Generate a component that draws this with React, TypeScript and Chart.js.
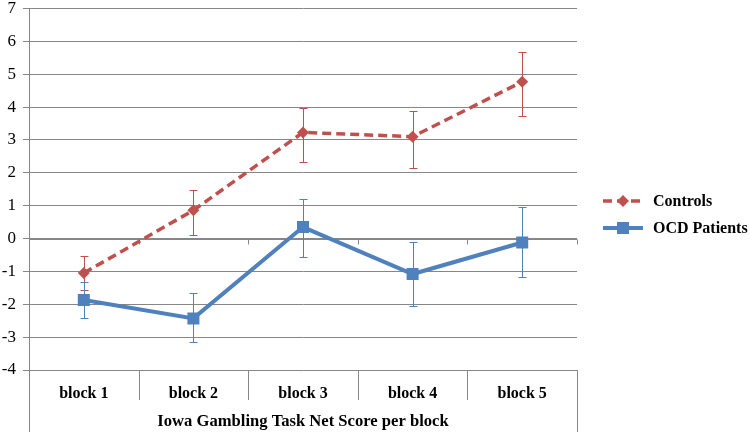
import React, { useEffect, useRef } from "react";
import { Chart, registerables } from "chart.js";

Chart.register(...registerables);

const categories = ["block 1", "block 2", "block 3", "block 4", "block 5"];
const controlsMean = [-1.05, 0.86, 3.23, 3.1, 4.77];
const controlsUpper = [-0.52, 1.47, 3.98, 3.88, 5.67];
const controlsLower = [-1.58, 0.11, 2.33, 2.16, 3.72];
const ocdMean = [-1.87, -2.43, 0.35, -1.08, -0.12];
const ocdUpper = [-1.33, -1.66, 1.21, -0.09, 0.97];
const ocdLower = [-2.42, -3.16, -0.55, -2.06, -1.16];
const yTicks = { min: -4, max: 7, step: 1 };
const xTitle = "Iowa Gambling Task Net Score per block";
const seriesNames = ["Controls", "OCD Patients"];

const RED = "#C0504D";
const BLUE = "#4F81BD";
const GRID = "#878787";
const SERIF = "'Liberation Serif', 'Times New Roman', serif";

const extrasPlugin = {
  id: "extras",
  beforeDatasetsDraw(chart: any) {
    const { ctx, chartArea, scales } = chart;
    const x = scales.x;
    const y = scales.y;
    ctx.save();
    const y0 = Math.round(y.getPixelForValue(0)) + 0.5;
    ctx.strokeStyle = GRID;
    ctx.lineWidth = 1;
    ctx.beginPath();
    ctx.moveTo(chartArea.left, y0);
    ctx.lineTo(chartArea.right, y0);
    for (let i = 0; i <= categories.length; i++) {
      const bx = Math.round(x.getPixelForValue(i - 0.5)) + 0.5;
      ctx.moveTo(bx, y0);
      ctx.lineTo(bx, y0 + 5);
    }
    ctx.stroke();
    ctx.beginPath();
    const bottom = chart.height;
    for (let i = 0; i <= categories.length; i++) {
      const bx = Math.round(x.getPixelForValue(i - 0.5)) + 0.5;
      const isEdge = i === 0 || i === categories.length;
      ctx.moveTo(bx, chartArea.bottom);
      ctx.lineTo(bx, isEdge ? bottom : chartArea.bottom + 30);
    }
    ctx.stroke();
    const drawErr = (upper: number[], lower: number[], color: string) => {
      ctx.strokeStyle = color;
      ctx.lineWidth = 1;
      ctx.beginPath();
      for (let i = 0; i < upper.length; i++) {
        const px = Math.round(x.getPixelForValue(i)) + 0.5;
        const yt = Math.round(y.getPixelForValue(upper[i])) + 0.5;
        const yb = Math.round(y.getPixelForValue(lower[i])) + 0.5;
        ctx.moveTo(px, yt);
        ctx.lineTo(px, yb);
        ctx.moveTo(px - 4, yt);
        ctx.lineTo(px + 4, yt);
        ctx.moveTo(px - 4, yb);
        ctx.lineTo(px + 4, yb);
      }
      ctx.stroke();
    };
    drawErr(controlsUpper, controlsLower, RED);
    drawErr(ocdUpper, ocdLower, BLUE);
    ctx.restore();
  },
  afterDraw(chart: any) {
    const { ctx, chartArea } = chart;
    ctx.save();
    const lx0 = chartArea.right + 26;
    const lx1 = lx0 + 40;
    const tx = lx1 + 10;
    const rows = [
      { y: 201, color: RED, dash: [9, 5], width: 3.5, marker: "diamond" },
      { y: 228, color: BLUE, dash: [], width: 4, marker: "square" },
    ];
    rows.forEach((r, i) => {
      ctx.strokeStyle = r.color;
      ctx.lineWidth = r.width;
      ctx.setLineDash(r.dash);
      ctx.beginPath();
      ctx.moveTo(lx0, r.y);
      ctx.lineTo(lx1, r.y);
      ctx.stroke();
      ctx.setLineDash([]);
      ctx.fillStyle = r.color;
      const cx = (lx0 + lx1) / 2;
      ctx.beginPath();
      if (r.marker === "diamond") {
        ctx.moveTo(cx, r.y - 6);
        ctx.lineTo(cx + 6, r.y);
        ctx.lineTo(cx, r.y + 6);
        ctx.lineTo(cx - 6, r.y);
        ctx.closePath();
      } else {
        ctx.rect(cx - 6, r.y - 6, 12, 12);
      }
      ctx.fill();
      ctx.fillStyle = "#000";
      ctx.font = `bold 16px ${SERIF}`;
      ctx.textBaseline = "middle";
      ctx.textAlign = "left";
      ctx.fillText(seriesNames[i], tx, r.y + 1);
    });
    ctx.restore();
  },
};

export default function App() {
  const ref = useRef<HTMLCanvasElement | null>(null);
  useEffect(() => {
    if (!ref.current) return;
    const chart = new Chart(ref.current, {
      type: "line",
      data: {
        labels: categories,
        datasets: [
          {
            label: seriesNames[0],
            data: controlsMean,
            borderColor: RED,
            backgroundColor: RED,
            borderWidth: 3.5,
            borderDash: [9, 5],
            pointStyle: "rectRot",
            pointRadius: 6,
            pointBorderWidth: 0,
            pointBackgroundColor: RED,
            tension: 0,
          },
          {
            label: seriesNames[1],
            data: ocdMean,
            borderColor: BLUE,
            backgroundColor: BLUE,
            borderWidth: 4,
            pointStyle: "rect",
            pointRadius: 8.5,
            pointBorderWidth: 0,
            pointBackgroundColor: BLUE,
            tension: 0,
          },
        ],
      },
      options: {
        animation: false,
        responsive: false,
        devicePixelRatio: 1,
        layout: { padding: { top: 6, right: 173, left: 0, bottom: 0 } },
        plugins: {
          legend: { display: false },
          tooltip: { enabled: false },
        },
        scales: {
          x: {
            offset: true,
            grid: { display: false, drawTicks: false },
            border: { display: false },
            ticks: {
              color: "#000",
              font: { family: SERIF, size: 16, weight: "bold" },
              padding: 14,
            },
            title: {
              display: true,
              text: xTitle,
              color: "#000",
              font: { family: SERIF, size: 16.6, weight: "bold" },
              padding: { top: 0, bottom: 0 },
            },
            afterFit(scale: any) {
              scale.height = 62;
            },
          },
          y: {
            min: yTicks.min,
            max: yTicks.max,
            ticks: {
              stepSize: yTicks.step,
              color: "#000",
              font: { family: SERIF, size: 17 },
              padding: 7,
            },
            grid: { color: GRID, lineWidth: 1, tickLength: 6 },
            border: { display: true, color: GRID, width: 1 },
            afterFit(scale: any) {
              scale.width = 29;
              scale.paddingTop = 0;
              scale.paddingBottom = 0;
            },
          },
        },
      },
      plugins: [extrasPlugin],
    } as any);
    return () => chart.destroy();
  }, []);
  return (
    <div style={{ position: "fixed", left: 0, top: 0, width: 750, height: 432, background: "#fff" }}>
      <canvas ref={ref} width={750} height={432} style={{ width: 750, height: 432, display: "block" }} />
    </div>
  );
}
